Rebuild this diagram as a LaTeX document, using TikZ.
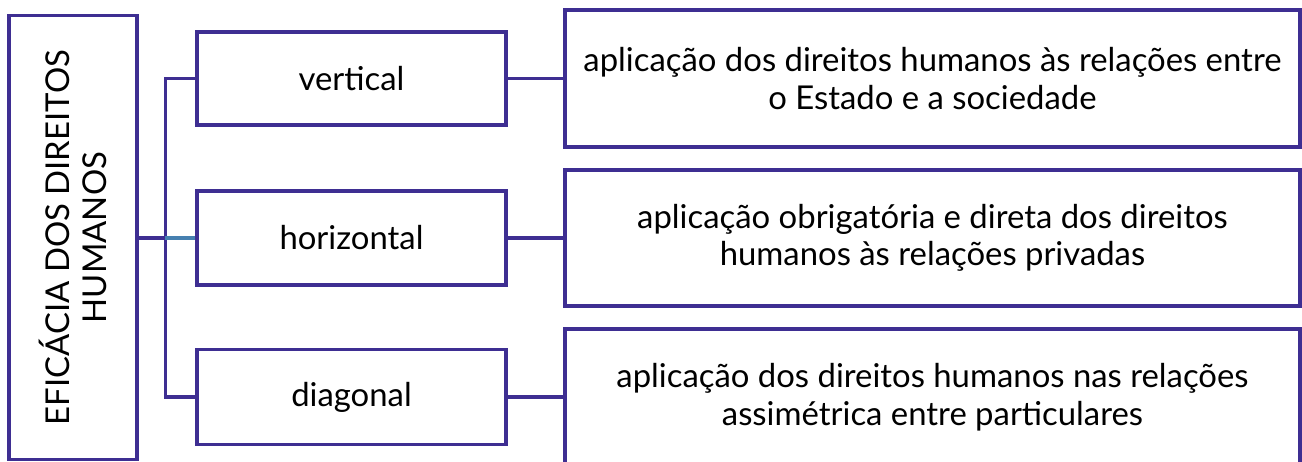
\documentclass[tikz,border=0pt]{standalone}
\usepackage{fontspec}
\setmainfont{Lato}
\definecolor{myblue}{RGB}{62,46,146}
\definecolor{myteal}{RGB}{70,128,176}
\tikzset{
    caixa/.style={draw=myblue, line width=1.8pt, fill=white, inner sep=0pt,
        align=center, font=\fontsize{18.7}{21.4}\selectfont},
    liga/.style={draw=myblue, line width=1.8pt}
}

\begin{document}
\begin{tikzpicture}[x=0.02cm, y=-0.02cm]
    \clip (0, 0) rectangle (1302, 462);
    \fill[white] (0, 0) rectangle (1302, 462);
    % Main box
    \node[caixa, minimum width=2.56cm, minimum height=8.88cm] (eficacia) at (73, 237.5) {};
    \node[rotate=90, align=center, font=\fontsize{18.7}{21.4}\selectfont] at (eficacia.center) {EFICÁCIA DOS DIREITOS\\HUMANOS};
    % Types
    \node[caixa, minimum width=6.18cm, minimum height=1.86cm] (vertical) at (351.5, 78.5) {vertical};
    \node[caixa, minimum width=6.18cm, minimum height=1.88cm] (horizontal) at (351.5, 238) {horizontal};
    \node[caixa, minimum width=6.18cm, minimum height=1.90cm] (diagonal) at (351.5, 397) {diagonal};
    % Descriptions
    \node[caixa, minimum width=14.7cm, minimum height=2.74cm] (dvertical) at (932.5, 78.5) {aplicação dos direitos humanos às relações entre\\o Estado e a sociedade};
    \node[caixa, minimum width=14.7cm, minimum height=2.72cm] (dhorizontal) at (932.5, 238) {aplicação obrigatória e direta dos direitos\\humanos às relações privadas};
    \node[caixa, minimum width=14.7cm, minimum height=2.72cm] (ddiagonal) at (932.5, 397) {aplicação dos direitos humanos nas relações\\assimétrica entre particulares};
    % Connectors
    \draw[liga] (vertical.west) -- ++(-30, 0) coordinate (bus) |- (diagonal.west);
    \draw[liga] (eficacia.east |- horizontal.west) -- (bus |- horizontal.west) coordinate (bush);
    \draw[liga, draw=myteal] (bush) -- (horizontal.west);
    \draw[liga] (vertical.east) -- (dvertical.west);
    \draw[liga] (horizontal.east) -- (dhorizontal.west);
    \draw[liga] (diagonal.east) -- (ddiagonal.west);
\end{tikzpicture}
\end{document}
